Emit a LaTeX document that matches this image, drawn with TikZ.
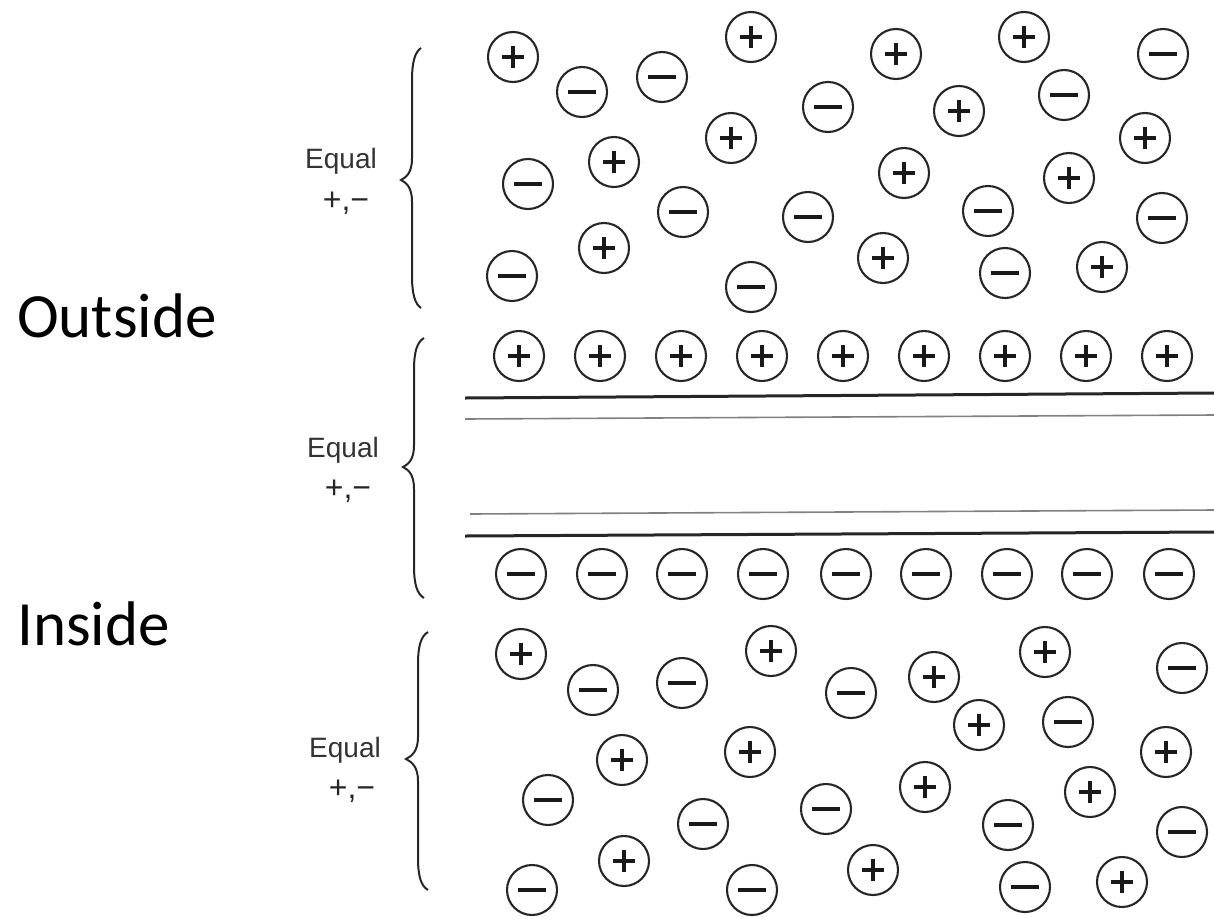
\documentclass[tikz,border=0pt]{standalone}
\usepackage{fontspec}
\setmainfont{Liberation Sans}
\newfontfamily\calib{Carlito}
\newcommand\eqbrace[6]{% xe xs xt ytop ytip ybot
\draw[bracestyle] (#1,#4) .. controls (#2+3,#4+4) and (#2,#4+14) .. (#2,#4+32) -- (#2,#5-22) .. controls (#2,#5-8) and (#3+6,#5-3) .. (#3,#5) .. controls (#3+6,#5+3) and (#2,#5+8) .. (#2,#5+22) -- (#2,#6-32) .. controls (#2,#6-14) and (#2+3,#6-4) .. (#1,#6);}
\begin{document}
\begin{tikzpicture}[x=1pt,y=-1pt,
  ionbase/.style={circle, draw=black!85, line width=2.1pt, minimum size=50pt, inner sep=0pt},
  ionp/.style={ionbase, path picture={\draw[black!90, line width=3.1pt] ([xshift=-11pt]path picture bounding box.center) -- ([xshift=11pt]path picture bounding box.center) ([yshift=-11pt]path picture bounding box.center) -- ([yshift=11pt]path picture bounding box.center);}},
  ionm/.style={ionbase, path picture={\draw[black!90, line width=3.3pt] ([xshift=-14pt]path picture bounding box.center) -- ([xshift=14pt]path picture bounding box.center);}},
  bracestyle/.style={black!85, line width=2pt},
  eqlabel/.style={inner sep=0pt, anchor=base, text=black!80, font=\fontsize{28}{32}\selectfont},
  pmlabel/.style={inner sep=0pt, anchor=base, text=black!85, font=\fontsize{32}{36}\selectfont},
  bigtext/.style={inner sep=0pt, anchor=base west, font=\calib\fontsize{63}{70}\selectfont},
  thickmem/.style={black!85, line width=3pt},
  thinmem/.style={black!50, line width=1.6pt}]
\useasboundingbox (0,0) rectangle (1214,916);

% side labels
\node[bigtext] (outside) at (17,337) {Outside};
\node[bigtext] (inside) at (17,645) {Inside};

% Equal labels
\node[eqlabel] (eq1) at (341,168) {Equal};
\node[pmlabel] (pm1) at (346,210) {+,−};
\node[eqlabel] (eq2) at (343,457) {Equal};
\node[pmlabel] (pm2) at (348,498) {+,−};
\node[eqlabel] (eq3) at (345,757) {Equal};
\node[pmlabel] (pm3) at (352,798) {+,−};

% braces
\eqbrace{421}{412}{401}{48}{180}{308}
\eqbrace{424}{414}{403}{338}{467}{598}
\eqbrace{428}{418}{406}{632}{759}{890}

% membrane
\draw[thickmem] (465,398) -- (1214,393);
\draw[thinmem] (465,419) -- (1214,415);
\draw[thinmem] (470,514) -- (1214,510);
\draw[thickmem] (465,536) -- (1214,532);

% membrane ion rows
\foreach \x [count=\i] in {519,600,681,762,843,924,1005,1086,1167}
  \node[ionp] (mp\i) at (\x,356) {};
\foreach \x [count=\i] in {521,602,682,763,846,926,1007,1087,1169}
  \node[ionm] (mm\i) at (\x,574) {};

% outside (top) free ions
\foreach \x/\y [count=\i] in {513/57,751/37,896/54,1024/37,959/111,731/138,1145/138,614/162,904/173,1069/178,604/248,883/258,1102/267}
  \node[ionp] (op\i) at (\x,\y) {};
\foreach \x/\y [count=\i] in {582/92,662/77,828/107,1163/54,1064/95,528/184,683/212,808/217,988/211,1162/218,512/276,751/287,1005/273}
  \node[ionm] (om\i) at (\x,\y) {};

% inside (bottom) free ions
\foreach \x/\y [count=\i] in {521/654,771/651,934/677,1045/652,979/725,622/760,750/752,1166/752,925/787,1090/792,624/861,873/870,1122/882}
  \node[ionp] (ip\i) at (\x,\y) {};
\foreach \x/\y [count=\i] in {593/690,682/683,851/693,1182/668,1068/722,548/800,703/824,826/809,1008/825,1182/832,532/890,752/890,1025/887}
  \node[ionm] (im\i) at (\x,\y) {};
\end{tikzpicture}
\end{document}
